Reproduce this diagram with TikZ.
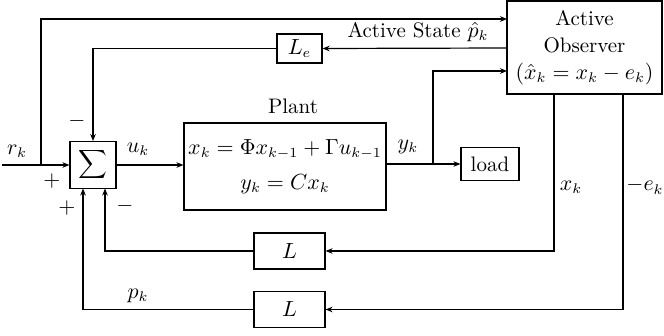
\documentclass[tikz,border=0pt]{standalone}
\usetikzlibrary{arrows.meta}
\begin{document}
\begin{tikzpicture}[x=0.5pt,y=-0.5pt,
  font=\fontsize{10.5}{12.5}\selectfont,
  line width=0.6pt,
  blk/.style={draw,rectangle,inner sep=0pt},
  arr/.style={-{Stealth[length=3.5pt,width=2.8pt]}},
  lbl/.style={inner sep=0pt}]
\useasboundingbox (0,0) rectangle (664,336);
% blocks
\node[blk,minimum width=23pt,minimum height=23.5pt] (sig) at (93,165) {$\displaystyle\sum$};
\node[blk,minimum width=101pt,minimum height=43.5pt,align=center] (plant) at (285,166.5)
  {$x_k=\Phi x_{k-1}+\Gamma u_{k-1}$\\[5pt] $y_k = C x_k$};
\node[blk,minimum width=22.5pt,minimum height=14.5pt] (le) at (299.5,48.5) {$L_e$};
\node[blk,minimum width=29pt,minimum height=16.5pt] (load) at (490,164) {load};
\node[blk,minimum width=35.5pt,minimum height=18pt] (l1) at (289.5,251) {$L$};
\node[blk,minimum width=35.5pt,minimum height=18pt] (l2) at (289.5,309.5) {$L$};
\node[blk,minimum width=77.5pt,minimum height=46.5pt,align=center] (obs) at (584.5,47.5)
  {Active\\[1pt] Observer\\[1pt] $(\hat{x}_k = x_k - e_k)$};
% labels
\node[lbl] (plantlbl) at (293,106) {Plant};
\node[lbl] (rk) at (17,151) {$r_k$};
\node[lbl] (uk) at (138,149) {$u_k$};
\node[lbl] (yk) at (408,147) {$y_k$};
\node[lbl] (xk) at (571,187) {$x_k$};
\node[lbl] (ek) at (645,186) {$-e_k$};
\node[lbl] (pk) at (138,296) {$p_k$};
\node[lbl] (aslbl) at (418,32) {Active State $\hat{p}_k$};
\node[lbl] (mtop) at (77,121) {$-$};
\node[lbl] (pleft) at (52,181) {$+$};
\node[lbl] (pbot) at (67,208) {$+$};
\node[lbl] (mbot) at (125,206) {$-$};
% coordinates
\coordinate (in) at (2,165);
\coordinate (tapr) at (41,165);
\coordinate (obsin1) at (507,19);
\coordinate (obsin2) at (507,71);
\coordinate (obsout) at (507,48);
\coordinate (tapy) at (433,164);
\coordinate (obsx) at (554,94);
\coordinate (obse) at (623,94);
\coordinate (sigtop) at (93,141);
\coordinate (sigb1) at (83,188.5);
\coordinate (sigb2) at (105,188.5);
% connectors
\draw[arr] (in) -- (sig.west);
\draw[arr] (tapr) |- (obsin1);
\draw[arr] (obsout) -- (le.east);
\draw[arr] (le.west) -| (sigtop);
\draw[arr] (sig.east) -- (plant.west |- sig.east);
\draw[arr] (plant.east |- tapy) -- (load.west |- tapy);
\draw[arr] (tapy) |- (obsin2);
\draw[arr] (obsx) |- (l1.east);
\draw[arr] (l1.west) -| (sigb2);
\draw[arr] (obse) |- (l2.east);
\draw[arr] (l2.west) -| (sigb1);
\end{tikzpicture}
\end{document}
